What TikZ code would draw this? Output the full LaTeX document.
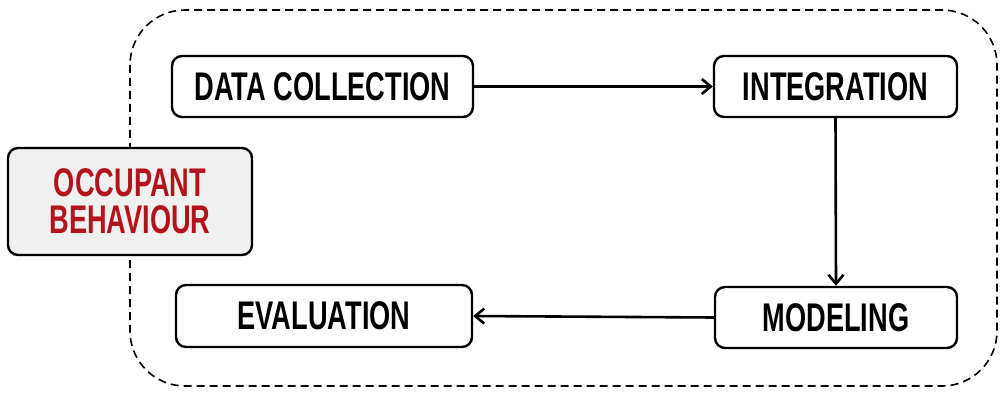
\documentclass[tikz,border=0pt]{standalone}
\usepackage{fontspec}
\newfontfamily\condfont[FakeStretch=0.68]{Liberation Sans}
\usetikzlibrary{arrows.meta}
\definecolor{labelred}{HTML}{B3141B}
\definecolor{softgray}{HTML}{F0F0F0}
\tikzset{
  stepbox/.style={draw=black, line width=2.4pt, rounded corners=10pt, fill=white,
    font=\condfont\bfseries\fontsize{40}{37}\selectfont, text=black},
  flow/.style={line width=2.6pt, -{Straight Barb[length=9pt, width=15pt, line width=2.6pt]}},
  region/.style={draw=black, line width=1.6pt, dash pattern=on 8pt off 5pt, rounded corners=55pt},
}
\begin{document}
\begin{tikzpicture}[x=1pt, y=-1pt]
  \useasboundingbox (0,0) rectangle (1001,393);
  % enclosing dashed region
  \draw[region] (130,10) rectangle (997,386);
  % process steps
  \node[stepbox, minimum width=301pt, minimum height=61pt] (collect) at (322.5,86.5) {DATA COLLECTION};
  \node[stepbox, minimum width=243pt, minimum height=61pt] (integ) at (835.5,86.5) {INTEGRATION};
  \node[stepbox, minimum width=242pt, minimum height=61pt] (model) at (836,317.5) {MODELING};
  \node[stepbox, minimum width=296pt, minimum height=62pt] (eval) at (324,316) {EVALUATION};
  % occupant behaviour label
  \node[stepbox, fill=softgray, text=labelred, align=center, minimum width=244pt, minimum height=107pt]
    (occ) at (130,201.5) {OCCUPANT\\BEHAVIOUR};
  % flow between steps
  \draw[flow] (collect.east) -- (integ.west);
  \draw[flow] (integ.south) -- (model.north);
  \draw[flow] (model.west) -- (eval.east);
\end{tikzpicture}
\end{document}
